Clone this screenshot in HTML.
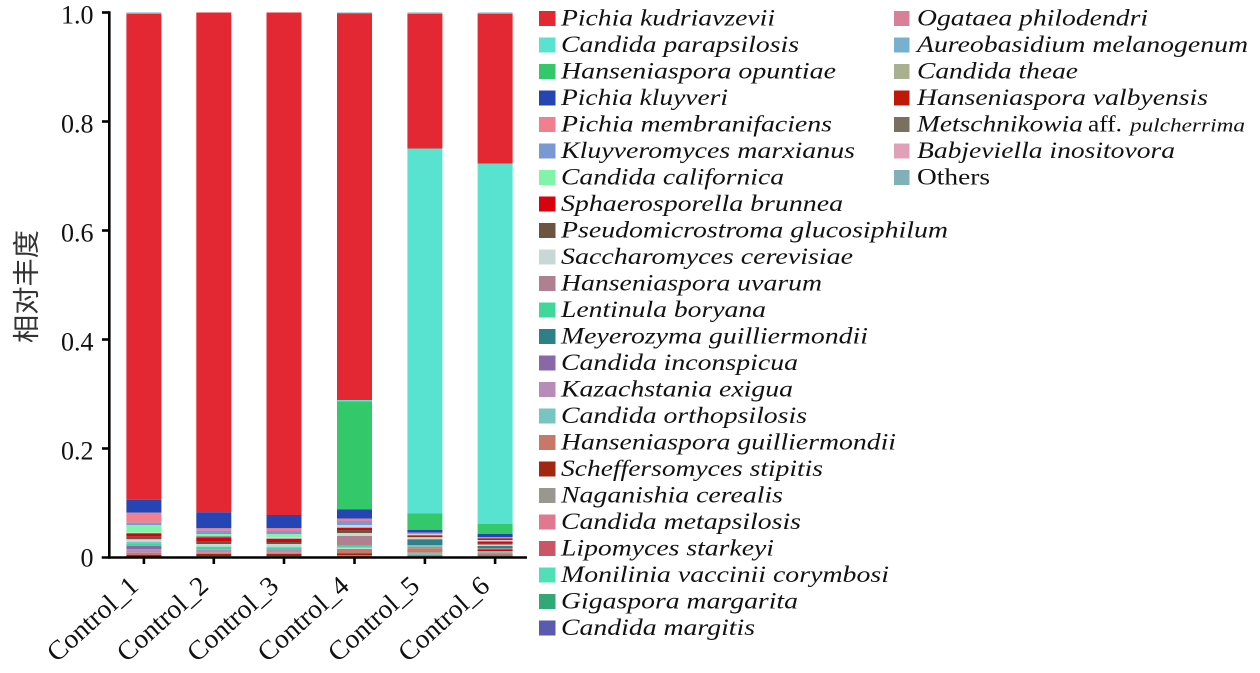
<!DOCTYPE html>
<html><head><meta charset="utf-8"><style>
html,body{margin:0;padding:0;background:#fff;}
svg{display:block;}
.lg{font-family:"Liberation Serif","Times New Roman",Times,serif;font-style:italic;font-size:23.5px;fill:#111;}
.tk{font-family:"Liberation Serif","Times New Roman",Times,serif;font-size:26px;fill:#111;}
.xl{font-family:"Liberation Serif","Times New Roman",Times,serif;font-size:27px;fill:#111;}
</style></head><body>
<svg width="1260" height="673" viewBox="0 0 1260 673" xmlns="http://www.w3.org/2000/svg">
<rect width="1260" height="673" fill="#fff"/>
<!-- Bar 1 -->
<g transform="translate(126.4,0)">
<rect y="12.5" width="35" height="1.5" fill="#80b0b8"/>
<rect y="14" width="35" height="485.7" fill="#e32733"/>
<rect y="499.7" width="35" height="13" fill="#2645b4"/>
<rect y="512.7" width="35" height="10" fill="#f08090"/>
<rect y="522.7" width="35" height="2.6" fill="#7a98d2"/>
<rect y="525.3" width="35" height="7.4" fill="#80f5a8"/>
<rect y="532.7" width="35" height="0.6" fill="#c8d8d8"/>
<rect y="533.3" width="35" height="3.4" fill="#d90010"/>
<rect y="536.7" width="35" height="2.6" fill="#6b5540"/>
<rect y="539.3" width="35" height="2.7" fill="#c8d8d8"/>
<rect y="542" width="35" height="1.3" fill="#78c4c0"/>
<rect y="543.3" width="35" height="2" fill="#40d898"/>
<rect y="545.3" width="35" height="0.7" fill="#989890"/>
<rect y="546" width="35" height="3.3" fill="#8a68a8"/>
<rect y="549.3" width="35" height="3.4" fill="#b88cb8"/>
<rect y="552.7" width="35" height="2.3" fill="#c87868"/>
<rect y="555" width="35" height="2.5" fill="#a02810"/>
</g>
<!-- Bar 2 -->
<g transform="translate(196.3,0)">
<rect y="12.5" width="35" height="499.8" fill="#e32733"/>
<rect y="512.3" width="35" height="16" fill="#2645b4"/>
<rect y="528.3" width="35" height="2.4" fill="#f08090"/>
<rect y="530.7" width="35" height="3.3" fill="#7a98d2"/>
<rect y="534" width="35" height="2" fill="#80f5a8"/>
<rect y="536" width="35" height="1.3" fill="#989890"/>
<rect y="537.3" width="35" height="4.4" fill="#d90010"/>
<rect y="541.7" width="35" height="2.3" fill="#6b5540"/>
<rect y="544" width="35" height="2.7" fill="#c8d8d8"/>
<rect y="546.7" width="35" height="2.3" fill="#40d898"/>
<rect y="549" width="35" height="1" fill="#78c4c0"/>
<rect y="550" width="35" height="2.3" fill="#b88cb8"/>
<rect y="552.3" width="35" height="1.7" fill="#e07890"/>
<rect y="554" width="35" height="2" fill="#a02810"/>
<rect y="556" width="35" height="1.5" fill="#30a878"/>
</g>
<!-- Bar 3 -->
<g transform="translate(266.5,0)">
<rect y="12.5" width="35" height="502.5" fill="#e32733"/>
<rect y="515" width="35" height="13.3" fill="#2645b4"/>
<rect y="528.3" width="35" height="2.7" fill="#f08090"/>
<rect y="531" width="35" height="3.3" fill="#7a98d2"/>
<rect y="534.3" width="35" height="3" fill="#80f5a8"/>
<rect y="537.3" width="35" height="1.4" fill="#c8d8d8"/>
<rect y="538.7" width="35" height="3.3" fill="#d90010"/>
<rect y="542" width="35" height="2" fill="#6b5540"/>
<rect y="544" width="35" height="2.7" fill="#c8d8d8"/>
<rect y="546.7" width="35" height="1" fill="#78c4c0"/>
<rect y="547.7" width="35" height="2.3" fill="#40d898"/>
<rect y="550" width="35" height="2.3" fill="#b88cb8"/>
<rect y="552.3" width="35" height="1.7" fill="#e07890"/>
<rect y="554" width="35" height="2" fill="#a02810"/>
<rect y="556" width="35" height="1.5" fill="#30a878"/>
</g>
<!-- Bar 4 -->
<g transform="translate(337,0)">
<rect y="12.5" width="35" height="1" fill="#80b0b8"/>
<rect y="13.5" width="35" height="386.5" fill="#e32733"/>
<rect y="400" width="35" height="1.5" fill="#57e3cf"/>
<rect y="401.5" width="35" height="107.8" fill="#33c96b"/>
<rect y="509.3" width="35" height="9.4" fill="#2645b4"/>
<rect y="518.7" width="35" height="2.3" fill="#f08090"/>
<rect y="521" width="35" height="4" fill="#7a98d2"/>
<rect y="525" width="35" height="2.7" fill="#c8d8d8"/>
<rect y="527.7" width="35" height="2.3" fill="#d90010"/>
<rect y="530" width="35" height="3" fill="#6b5540"/>
<rect y="533" width="35" height="3" fill="#c8d8d8"/>
<rect y="536" width="35" height="9" fill="#b08090"/>
<rect y="545" width="35" height="2.7" fill="#40d898"/>
<rect y="547.7" width="35" height="1.3" fill="#c8d8d8"/>
<rect y="549" width="35" height="4.3" fill="#c87868"/>
<rect y="553.3" width="35" height="1.7" fill="#a02810"/>
<rect y="555" width="35" height="2.5" fill="#c87868"/>
</g>
<!-- Bar 5 -->
<g transform="translate(407.4,0)">
<rect y="12.5" width="35" height="1.5" fill="#80b0b8"/>
<rect y="14" width="35" height="134.5" fill="#e32733"/>
<rect y="148.5" width="35" height="364.8" fill="#57e3cf"/>
<rect y="513.3" width="35" height="16.7" fill="#33c96b"/>
<rect y="530" width="35" height="2.7" fill="#2645b4"/>
<rect y="532.7" width="35" height="1.3" fill="#f08090"/>
<rect y="534" width="35" height="1.3" fill="#c8d8d8"/>
<rect y="535.3" width="35" height="2" fill="#a02810"/>
<rect y="537.3" width="35" height="2" fill="#c8d8d8"/>
<rect y="539.3" width="35" height="6" fill="#2e8088"/>
<rect y="545.3" width="35" height="1.4" fill="#78c4c0"/>
<rect y="546.7" width="35" height="1.6" fill="#989890"/>
<rect y="548.3" width="35" height="4.4" fill="#c87868"/>
<rect y="552.7" width="35" height="2.3" fill="#78c4c0"/>
<rect y="555" width="35" height="2.5" fill="#c87868"/>
</g>
<!-- Bar 6 -->
<g transform="translate(477.6,0)">
<rect y="12.5" width="35" height="1.5" fill="#80b0b8"/>
<rect y="14" width="35" height="149.5" fill="#e32733"/>
<rect y="163.5" width="35" height="360.5" fill="#57e3cf"/>
<rect y="524" width="35" height="10" fill="#33c96b"/>
<rect y="534" width="35" height="3" fill="#2645b4"/>
<rect y="537" width="35" height="1.5" fill="#f08090"/>
<rect y="538.5" width="35" height="1.5" fill="#a02810"/>
<rect y="540" width="35" height="1.5" fill="#c8d8d8"/>
<rect y="541.5" width="35" height="1.5" fill="#d90010"/>
<rect y="543" width="35" height="1.5" fill="#6b5540"/>
<rect y="544.5" width="35" height="1.5" fill="#c8d8d8"/>
<rect y="546" width="35" height="2" fill="#2e8088"/>
<rect y="548" width="35" height="1.5" fill="#989890"/>
<rect y="549.5" width="35" height="1.5" fill="#d90010"/>
<rect y="551" width="35" height="2.5" fill="#78c4c0"/>
<rect y="553.5" width="35" height="2" fill="#c87868"/>
<rect y="555.5" width="35" height="2" fill="#30a878"/>
</g>

<!-- Axes -->
<g stroke="#000" stroke-width="2.6" fill="none">
<line x1="109.3" y1="11.2" x2="109.3" y2="558.8"/>
<line x1="101.7" y1="557.5" x2="527" y2="557.5"/>
<line x1="102" y1="12.5" x2="109.3" y2="12.5"/>
<line x1="102" y1="121.5" x2="109.3" y2="121.5"/>
<line x1="102" y1="230.5" x2="109.3" y2="230.5"/>
<line x1="102" y1="339.5" x2="109.3" y2="339.5"/>
<line x1="102" y1="448.5" x2="109.3" y2="448.5"/>
<line x1="143.9" y1="557.5" x2="143.9" y2="564"/>
<line x1="213.8" y1="557.5" x2="213.8" y2="564"/>
<line x1="284" y1="557.5" x2="284" y2="564"/>
<line x1="354.5" y1="557.5" x2="354.5" y2="564"/>
<line x1="424.9" y1="557.5" x2="424.9" y2="564"/>
<line x1="495.1" y1="557.5" x2="495.1" y2="564"/>
</g>

<!-- Y tick labels -->
<g class="tk" text-anchor="end">
<text x="93.5" y="23.5">1.0</text>
<text x="93.5" y="132.5">0.8</text>
<text x="93.5" y="241.5">0.6</text>
<text x="93.5" y="350.5">0.4</text>
<text x="93.5" y="459.5">0.2</text>
<text x="93.5" y="566.5">0</text>
</g>

<!-- Y axis title -->
<text x="0" y="0" transform="translate(36,286.5) rotate(-90)" text-anchor="middle" font-family="'Liberation Sans','Noto Sans CJK SC',sans-serif" font-size="27" fill="#333" textLength="113" lengthAdjust="spacingAndGlyphs">相对丰度</text>

<!-- X labels -->
<g class="xl" text-anchor="end">
<text transform="translate(140,588) rotate(-42)" textLength="112" lengthAdjust="spacingAndGlyphs">Control_1</text>
<text transform="translate(209.9,588) rotate(-42)" textLength="112" lengthAdjust="spacingAndGlyphs">Control_2</text>
<text transform="translate(280.1,588) rotate(-42)" textLength="112" lengthAdjust="spacingAndGlyphs">Control_3</text>
<text transform="translate(350.6,588) rotate(-42)" textLength="112" lengthAdjust="spacingAndGlyphs">Control_4</text>
<text transform="translate(421,588) rotate(-42)" textLength="112" lengthAdjust="spacingAndGlyphs">Control_5</text>
<text transform="translate(491.2,588) rotate(-42)" textLength="112" lengthAdjust="spacingAndGlyphs">Control_6</text>
</g>

<!-- Legend column 1 -->
<g>
<rect x="539" y="11" width="16.5" height="15" fill="#e32733"/>
<rect x="539" y="37.5" width="16.5" height="15" fill="#57e3cf"/>
<rect x="539" y="64" width="16.5" height="15" fill="#33c96b"/>
<rect x="539" y="90.5" width="16.5" height="15" fill="#2645b4"/>
<rect x="539" y="117" width="16.5" height="15" fill="#f08090"/>
<rect x="539" y="143.5" width="16.5" height="15" fill="#7a98d2"/>
<rect x="539" y="170" width="16.5" height="15" fill="#80f5a8"/>
<rect x="539" y="196.5" width="16.5" height="15" fill="#d90010"/>
<rect x="539" y="223" width="16.5" height="15" fill="#6b5540"/>
<rect x="539" y="249.5" width="16.5" height="15" fill="#c8d8d8"/>
<rect x="539" y="276" width="16.5" height="15" fill="#b08090"/>
<rect x="539" y="302.5" width="16.5" height="15" fill="#40d898"/>
<rect x="539" y="329" width="16.5" height="15" fill="#2e8088"/>
<rect x="539" y="355.5" width="16.5" height="15" fill="#8a68a8"/>
<rect x="539" y="382" width="16.5" height="15" fill="#b88cb8"/>
<rect x="539" y="408.5" width="16.5" height="15" fill="#78c4c0"/>
<rect x="539" y="435" width="16.5" height="15" fill="#c87868"/>
<rect x="539" y="461.5" width="16.5" height="15" fill="#a02810"/>
<rect x="539" y="488" width="16.5" height="15" fill="#989890"/>
<rect x="539" y="514.5" width="16.5" height="15" fill="#e07890"/>
<rect x="539" y="541" width="16.5" height="15" fill="#cc5468"/>
<rect x="539" y="567.5" width="16.5" height="15" fill="#50e0b8"/>
<rect x="539" y="594" width="16.5" height="15" fill="#30a878"/>
<rect x="539" y="620.5" width="16.5" height="15" fill="#5a5ab0"/>
</g>
<g class="lg">
<text x="561" y="25.5" textLength="214" lengthAdjust="spacingAndGlyphs">Pichia kudriavzevii</text>
<text x="561" y="52" textLength="238" lengthAdjust="spacingAndGlyphs">Candida parapsilosis</text>
<text x="561" y="78.5" textLength="275" lengthAdjust="spacingAndGlyphs">Hanseniaspora opuntiae</text>
<text x="561" y="105" textLength="167" lengthAdjust="spacingAndGlyphs">Pichia kluyveri</text>
<text x="561" y="131.5" textLength="271" lengthAdjust="spacingAndGlyphs">Pichia membranifaciens</text>
<text x="561" y="158" textLength="294" lengthAdjust="spacingAndGlyphs">Kluyveromyces marxianus</text>
<text x="561" y="184.5" textLength="223" lengthAdjust="spacingAndGlyphs">Candida californica</text>
<text x="561" y="211" textLength="282" lengthAdjust="spacingAndGlyphs">Sphaerosporella brunnea</text>
<text x="561" y="237.5" textLength="387" lengthAdjust="spacingAndGlyphs">Pseudomicrostroma glucosiphilum</text>
<text x="561" y="264" textLength="292" lengthAdjust="spacingAndGlyphs">Saccharomyces cerevisiae</text>
<text x="561" y="290.5" textLength="261" lengthAdjust="spacingAndGlyphs">Hanseniaspora uvarum</text>
<text x="561" y="317" textLength="205" lengthAdjust="spacingAndGlyphs">Lentinula boryana</text>
<text x="561" y="343.5" textLength="307" lengthAdjust="spacingAndGlyphs">Meyerozyma guilliermondii</text>
<text x="561" y="370" textLength="237" lengthAdjust="spacingAndGlyphs">Candida inconspicua</text>
<text x="561" y="396.5" textLength="232" lengthAdjust="spacingAndGlyphs">Kazachstania exigua</text>
<text x="561" y="423" textLength="246" lengthAdjust="spacingAndGlyphs">Candida orthopsilosis</text>
<text x="561" y="449.5" textLength="335" lengthAdjust="spacingAndGlyphs">Hanseniaspora guilliermondii</text>
<text x="561" y="476" textLength="262" lengthAdjust="spacingAndGlyphs">Scheffersomyces stipitis</text>
<text x="561" y="502.5" textLength="222" lengthAdjust="spacingAndGlyphs">Naganishia cerealis</text>
<text x="561" y="529" textLength="240" lengthAdjust="spacingAndGlyphs">Candida metapsilosis</text>
<text x="561" y="555.5" textLength="213" lengthAdjust="spacingAndGlyphs">Lipomyces starkeyi</text>
<text x="561" y="582" textLength="328" lengthAdjust="spacingAndGlyphs">Monilinia vaccinii corymbosi</text>
<text x="561" y="608.5" textLength="237" lengthAdjust="spacingAndGlyphs">Gigaspora margarita</text>
<text x="561" y="635" textLength="194" lengthAdjust="spacingAndGlyphs">Candida margitis</text>
</g>

<!-- Legend column 2 -->
<g>
<rect x="894" y="11" width="15.5" height="15" fill="#d88098"/>
<rect x="894" y="37.5" width="15.5" height="15" fill="#78b0d0"/>
<rect x="894" y="64" width="15.5" height="15" fill="#a8b090"/>
<rect x="894" y="90.5" width="15.5" height="15" fill="#c01808"/>
<rect x="894" y="117" width="15.5" height="15" fill="#7a7060"/>
<rect x="894" y="143.5" width="15.5" height="15" fill="#e0a0b8"/>
<rect x="894" y="170" width="15.5" height="15" fill="#80b0b8"/>
</g>
<g class="lg">
<text x="917" y="25.5" textLength="231" lengthAdjust="spacingAndGlyphs">Ogataea philodendri</text>
<text x="917" y="52" textLength="331" lengthAdjust="spacingAndGlyphs">Aureobasidium melanogenum</text>
<text x="917" y="78.5" textLength="161" lengthAdjust="spacingAndGlyphs">Candida theae</text>
<text x="917" y="105" textLength="291" lengthAdjust="spacingAndGlyphs">Hanseniaspora valbyensis</text>
<text x="917" y="131.5" textLength="166" lengthAdjust="spacingAndGlyphs">Metschnikowia</text>
<text x="1130" y="131.5" font-size="19" textLength="115" lengthAdjust="spacingAndGlyphs">pulcherrima</text>
<text x="917" y="158" textLength="258" lengthAdjust="spacingAndGlyphs">Babjeviella inositovora</text>
</g>
<text x="1088" y="131.5" font-family="'Liberation Serif','Times New Roman',Times,serif" font-size="23.5" fill="#111" textLength="34" lengthAdjust="spacingAndGlyphs">aff.</text>
<text x="917" y="184.5" font-family="'Liberation Serif','Times New Roman',Times,serif" font-size="23.5" fill="#111" textLength="73" lengthAdjust="spacingAndGlyphs">Others</text>
</svg>
</body></html>
